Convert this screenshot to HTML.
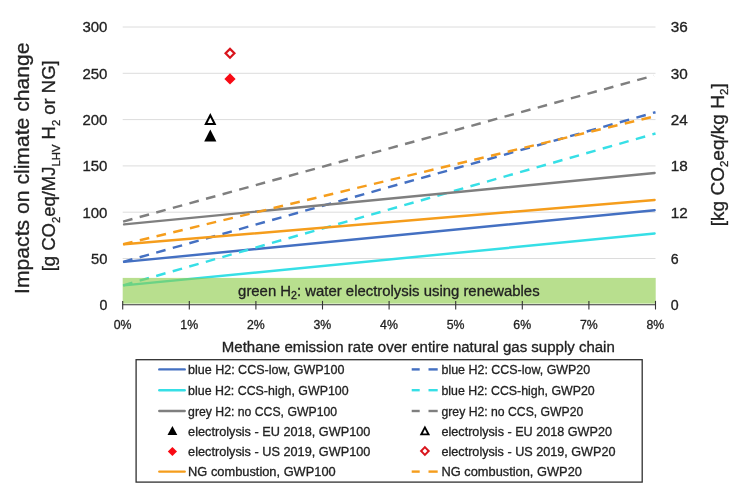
<!DOCTYPE html>
<html lang="en"><head><meta charset="utf-8"><title>Impacts on climate change</title>
<style>html,body{margin:0;padding:0;background:#fff}svg{display:block}text{font-family:"Liberation Sans",sans-serif;fill:#222;stroke:#222;stroke-width:.3px}</style>
</head><body>
<svg width="750" height="489" viewBox="0 0 750 489">
<rect width="750" height="489" fill="#fff"/>
<line x1="122.7" x2="655.5" y1="258.5" y2="258.5" stroke="#dcdcdc" stroke-width="1"/>
<line x1="122.7" x2="655.5" y1="212.2" y2="212.2" stroke="#dcdcdc" stroke-width="1"/>
<line x1="122.7" x2="655.5" y1="165.9" y2="165.9" stroke="#dcdcdc" stroke-width="1"/>
<line x1="122.7" x2="655.5" y1="119.6" y2="119.6" stroke="#dcdcdc" stroke-width="1"/>
<line x1="122.7" x2="655.5" y1="73.3" y2="73.3" stroke="#dcdcdc" stroke-width="1"/>
<line x1="122.7" x2="655.5" y1="27.0" y2="27.0" stroke="#dcdcdc" stroke-width="1"/>
<line x1="124.1" y1="261.9" x2="654.6" y2="210.2" stroke="#4470c2" stroke-width="2.45" stroke-linecap="round"/>
<line x1="123.1" y1="261.9" x2="655.5" y2="112.2" stroke="#4470c2" stroke-width="2.45" stroke-linecap="butt" stroke-dasharray="9.7 7.5"/>
<line x1="124.1" y1="285.4" x2="654.6" y2="233.5" stroke="#36dfe6" stroke-width="2.45" stroke-linecap="round"/>
<line x1="123.1" y1="285.4" x2="655.5" y2="133.5" stroke="#36dfe6" stroke-width="2.45" stroke-linecap="butt" stroke-dasharray="9.7 7.5"/>
<line x1="124.1" y1="224.4" x2="654.6" y2="173.0" stroke="#7f7f7f" stroke-width="2.45" stroke-linecap="round"/>
<line x1="123.1" y1="221.6" x2="653.9" y2="75.6" stroke="#7f7f7f" stroke-width="2.45" stroke-linecap="butt" stroke-dasharray="9.7 7.5"/>
<line x1="124.1" y1="244.3" x2="654.6" y2="200.0" stroke="#f59d1c" stroke-width="2.45" stroke-linecap="round"/>
<line x1="123.1" y1="244.3" x2="655.5" y2="116.1" stroke="#f59d1c" stroke-width="2.45" stroke-linecap="butt" stroke-dasharray="9.7 7.5"/>
<rect x="122.7" y="277.9" width="533.0" height="25.7" fill="#8ccc48" fill-opacity="0.62"/>
<text x="238.1" y="296.2" font-size="14" textLength="301.5" lengthAdjust="spacingAndGlyphs">green H<tspan font-size="10" dy="3">2</tspan><tspan dy="-3">: water electrolysis using renewables</tspan></text>
<line x1="122.4" x2="655.8" y1="304.8" y2="304.8" stroke="#333" stroke-width="1.1"/>
<line x1="122.7" x2="122.7" y1="300.9" y2="309.5" stroke="#333" stroke-width="1.1"/>
<line x1="189.3" x2="189.3" y1="300.9" y2="309.5" stroke="#333" stroke-width="1.1"/>
<line x1="255.9" x2="255.9" y1="300.9" y2="309.5" stroke="#333" stroke-width="1.1"/>
<line x1="322.5" x2="322.5" y1="300.9" y2="309.5" stroke="#333" stroke-width="1.1"/>
<line x1="389.1" x2="389.1" y1="300.9" y2="309.5" stroke="#333" stroke-width="1.1"/>
<line x1="455.7" x2="455.7" y1="300.9" y2="309.5" stroke="#333" stroke-width="1.1"/>
<line x1="522.3" x2="522.3" y1="300.9" y2="309.5" stroke="#333" stroke-width="1.1"/>
<line x1="588.9" x2="588.9" y1="300.9" y2="309.5" stroke="#333" stroke-width="1.1"/>
<line x1="655.5" x2="655.5" y1="300.9" y2="309.5" stroke="#333" stroke-width="1.1"/>
<text x="113.7" y="328.6" font-size="12.4" textLength="17.8" lengthAdjust="spacingAndGlyphs">0%</text>
<text x="180.3" y="328.6" font-size="12.4" textLength="17.8" lengthAdjust="spacingAndGlyphs">1%</text>
<text x="246.9" y="328.6" font-size="12.4" textLength="17.8" lengthAdjust="spacingAndGlyphs">2%</text>
<text x="313.5" y="328.6" font-size="12.4" textLength="17.8" lengthAdjust="spacingAndGlyphs">3%</text>
<text x="380.1" y="328.6" font-size="12.4" textLength="17.8" lengthAdjust="spacingAndGlyphs">4%</text>
<text x="446.7" y="328.6" font-size="12.4" textLength="17.8" lengthAdjust="spacingAndGlyphs">5%</text>
<text x="513.3" y="328.6" font-size="12.4" textLength="17.8" lengthAdjust="spacingAndGlyphs">6%</text>
<text x="579.9" y="328.6" font-size="12.4" textLength="17.8" lengthAdjust="spacingAndGlyphs">7%</text>
<text x="646.5" y="328.6" font-size="12.4" textLength="17.8" lengthAdjust="spacingAndGlyphs">8%</text>
<text x="99.5" y="310.2" font-size="14" textLength="7.9" lengthAdjust="spacingAndGlyphs">0</text>
<text x="91.0" y="263.9" font-size="14" textLength="16.4" lengthAdjust="spacingAndGlyphs">50</text>
<text x="82.4" y="217.6" font-size="14" textLength="25.0" lengthAdjust="spacingAndGlyphs">100</text>
<text x="82.4" y="171.3" font-size="14" textLength="25.0" lengthAdjust="spacingAndGlyphs">150</text>
<text x="82.4" y="125.0" font-size="14" textLength="25.0" lengthAdjust="spacingAndGlyphs">200</text>
<text x="82.4" y="78.7" font-size="14" textLength="25.0" lengthAdjust="spacingAndGlyphs">250</text>
<text x="82.4" y="32.4" font-size="14" textLength="25.0" lengthAdjust="spacingAndGlyphs">300</text>
<text x="670.7" y="310.2" font-size="14" textLength="7.9" lengthAdjust="spacingAndGlyphs">0</text>
<text x="670.7" y="263.9" font-size="14" textLength="7.9" lengthAdjust="spacingAndGlyphs">6</text>
<text x="670.7" y="217.6" font-size="14" textLength="17.0" lengthAdjust="spacingAndGlyphs">12</text>
<text x="670.7" y="171.3" font-size="14" textLength="17.0" lengthAdjust="spacingAndGlyphs">18</text>
<text x="670.7" y="125.0" font-size="14" textLength="17.0" lengthAdjust="spacingAndGlyphs">24</text>
<text x="670.7" y="78.7" font-size="14" textLength="17.0" lengthAdjust="spacingAndGlyphs">30</text>
<text x="670.7" y="32.4" font-size="14" textLength="17.0" lengthAdjust="spacingAndGlyphs">36</text>
<text transform="translate(28.7 293.9) rotate(-90)" font-size="19.8" textLength="251.5" lengthAdjust="spacingAndGlyphs">Impacts on climate change</text>
<text transform="translate(55.2 271.3) rotate(-90)" font-size="18" textLength="211" lengthAdjust="spacingAndGlyphs">[g CO<tspan font-size="11" dy="4.5">2</tspan><tspan dy="-4.5">eq/MJ</tspan><tspan font-size="11" dy="4.5">LHV</tspan><tspan dy="-4.5"> H</tspan><tspan font-size="11" dy="4.5">2</tspan><tspan dy="-4.5"> or NG]</tspan></text>
<text transform="translate(724.1 226.3) rotate(-90)" font-size="17.5" textLength="143" lengthAdjust="spacingAndGlyphs">[kg CO<tspan font-size="10.5" dy="4.3">2</tspan><tspan dy="-4.3">eq/kg H</tspan><tspan font-size="10.5" dy="4.3">2</tspan><tspan dy="-4.3">]</tspan></text>
<text x="221.8" y="351.5" font-size="14" textLength="393" lengthAdjust="spacingAndGlyphs">Methane emission rate over entire natural gas supply chain</text>
<polygon points="210.3,129.4 216.4,141.4 204.2,141.4" fill="#000"/>
<polygon points="210.3,112.9 216.4,125.1 204.2,125.1" fill="#000"/><polygon points="210.3,117.6 213.1,122.9 207.5,122.9" fill="#fff"/>
<polygon points="230.0,73.3 235.6,78.9 230.0,84.5 224.4,78.9" fill="#f80a14"/>
<polygon points="230.0,47.3 236.0,53.3 230.0,59.3 224.0,53.3" fill="#d9141c"/><polygon points="230.0,50.4 232.9,53.3 230.0,56.2 227.1,53.3" fill="#fff"/>
<rect x="136.1" y="359.7" width="506.1" height="122.4" fill="#fff" stroke="#303030" stroke-width="1.3"/>
<text x="188.1" y="373.9" font-size="12.5" textLength="156.3" lengthAdjust="spacingAndGlyphs">blue H2: CCS-low, GWP100</text>
<text x="441.5" y="373.9" font-size="12.5" textLength="148.7" lengthAdjust="spacingAndGlyphs">blue H2: CCS-low, GWP20</text>
<line x1="159.3" x2="184.7" y1="369.4" y2="369.4" stroke="#4470c2" stroke-width="2.4" stroke-linecap="round"/>
<line x1="411.7" x2="419.7" y1="369.4" y2="369.4" stroke="#4470c2" stroke-width="2.4"/>
<line x1="428.5" x2="437.7" y1="369.4" y2="369.4" stroke="#4470c2" stroke-width="2.4"/>
<text x="188.1" y="394.7" font-size="12.5" textLength="160.5" lengthAdjust="spacingAndGlyphs">blue H2: CCS-high, GWP100</text>
<text x="441.5" y="394.7" font-size="12.5" textLength="153.2" lengthAdjust="spacingAndGlyphs">blue H2: CCS-high, GWP20</text>
<line x1="159.3" x2="184.7" y1="390.2" y2="390.2" stroke="#36dfe6" stroke-width="2.4" stroke-linecap="round"/>
<line x1="411.7" x2="419.7" y1="390.2" y2="390.2" stroke="#36dfe6" stroke-width="2.4"/>
<line x1="428.5" x2="437.7" y1="390.2" y2="390.2" stroke="#36dfe6" stroke-width="2.4"/>
<text x="188.1" y="415.5" font-size="12.5" textLength="149.0" lengthAdjust="spacingAndGlyphs">grey H2: no CCS, GWP100</text>
<text x="441.5" y="415.5" font-size="12.5" textLength="141.8" lengthAdjust="spacingAndGlyphs">grey H2: no CCS, GWP20</text>
<line x1="159.3" x2="184.7" y1="411.0" y2="411.0" stroke="#7f7f7f" stroke-width="2.4" stroke-linecap="round"/>
<line x1="411.7" x2="419.7" y1="411.0" y2="411.0" stroke="#7f7f7f" stroke-width="2.4"/>
<line x1="428.5" x2="437.7" y1="411.0" y2="411.0" stroke="#7f7f7f" stroke-width="2.4"/>
<text x="188.1" y="435.6" font-size="12.5" textLength="182.3" lengthAdjust="spacingAndGlyphs">electrolysis - EU 2018, GWP100</text>
<text x="441.5" y="435.6" font-size="12.5" textLength="170.5" lengthAdjust="spacingAndGlyphs">electrolysis - EU 2018 GWP20</text>
<text x="188.1" y="456.0" font-size="12.5" textLength="182.3" lengthAdjust="spacingAndGlyphs">electrolysis - US 2019, GWP100</text>
<text x="441.5" y="456.0" font-size="12.5" textLength="174.0" lengthAdjust="spacingAndGlyphs">electrolysis - US 2019, GWP20</text>
<text x="188.1" y="476.1" font-size="12.5" textLength="147.6" lengthAdjust="spacingAndGlyphs">NG combustion, GWP100</text>
<text x="441.5" y="476.1" font-size="12.5" textLength="140.4" lengthAdjust="spacingAndGlyphs">NG combustion, GWP20</text>
<line x1="159.3" x2="184.7" y1="471.6" y2="471.6" stroke="#f59d1c" stroke-width="2.4" stroke-linecap="round"/>
<line x1="411.7" x2="419.7" y1="471.6" y2="471.6" stroke="#f59d1c" stroke-width="2.4"/>
<line x1="428.5" x2="437.7" y1="471.6" y2="471.6" stroke="#f59d1c" stroke-width="2.4"/>
<polygon points="172.4,426.1 177.3,435.0 167.5,435.0" fill="#000"/>
<polygon points="424.9,425.4 430.1,435.2 419.7,435.2" fill="#000"/><polygon points="424.9,429.3 427.0,433.4 422.8,433.4" fill="#fff"/>
<polygon points="172.4,446.9 177.0,451.5 172.4,456.1 167.8,451.5" fill="#f80a14"/>
<polygon points="424.9,445.8 430.1,451.0 424.9,456.2 419.7,451.0" fill="#d9141c"/><polygon points="424.9,448.6 427.3,451.0 424.9,453.4 422.5,451.0" fill="#fff"/>
</svg>
</body></html>
